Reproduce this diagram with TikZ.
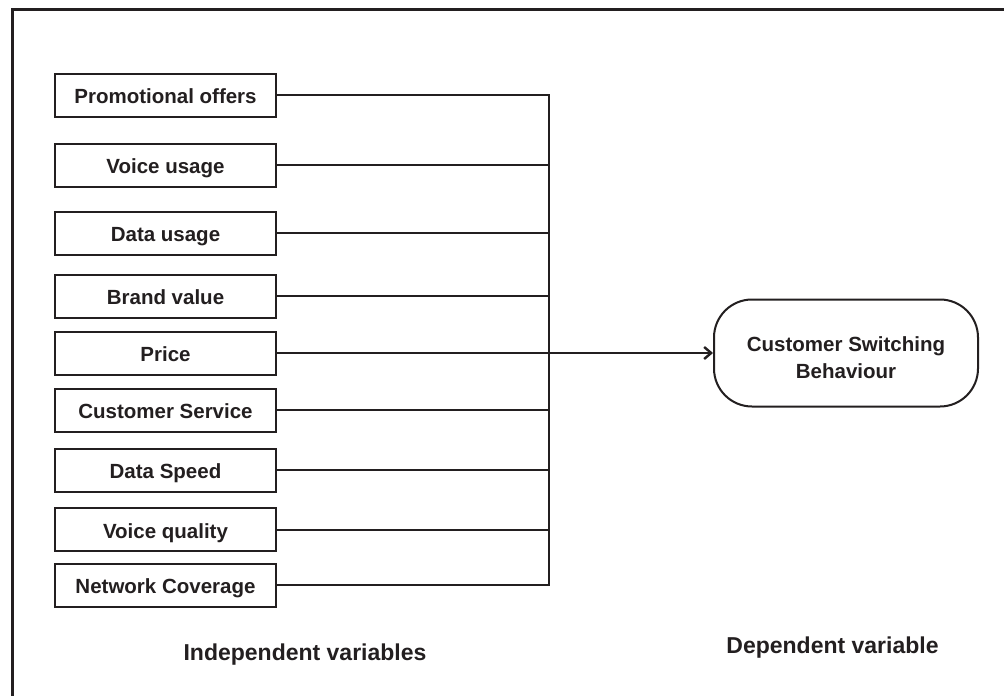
\documentclass[tikz,border=0pt]{standalone}
\usepackage{fontspec}
\setmainfont{Liberation Sans}
\usetikzlibrary{arrows.meta}
\definecolor{ink}{HTML}{231F20}
\begin{document}
\begin{tikzpicture}[x=1pt,y=-1pt,
  ivbox/.style={draw=ink, line width=2pt, minimum width=221pt, minimum height=43pt, inner sep=0pt,
    text height=17.7pt, text depth=0pt,
    font=\fontsize{20.5}{22}\selectfont\bfseries, text=ink},
  dvbox/.style={draw=ink, line width=2pt, rounded corners=38pt, minimum width=264pt, minimum height=107pt,
    inner sep=0pt, align=center, font=\fontsize{20.5}{27}\selectfont\bfseries, text=ink},
  lbl/.style={font=\fontsize{23}{26}\selectfont\bfseries, text=ink, inner sep=0pt},
  conn/.style={draw=ink, line width=2pt},
]
\useasboundingbox (0,0) rectangle (1004,696);
\fill[white] (0,0) rectangle (1004,696);
% outer frame
\draw[draw=ink, line width=3pt] (12,696) -- (12,9) -- (1004,9);

\node[ivbox] (b1) at (165.5,95)  {Promotional offers};
\node[ivbox] (b2) at (165.5,165) {Voice usage};
\node[ivbox] (b3) at (165.5,233) {Data usage};
\node[ivbox] (b4) at (165.5,296) {Brand value};
\node[ivbox] (b5) at (165.5,353) {Price};
\node[ivbox] (b6) at (165.5,410) {Customer Service};
\node[ivbox] (b7) at (165.5,470) {Data Speed};
\node[ivbox] (b8) at (165.5,529.5) {Voice quality};
\node[ivbox] (b9) at (165.5,585) {Network Coverage};

\node[dvbox] (dv) at (846,353) {\rule{0pt}{24pt}Customer Switching\\Behaviour};

\coordinate (bus) at (549,353);

\foreach \i in {1,...,9}{
  \draw[conn] (b\i.east) -- (b\i.east -| bus);
}
\draw[conn, line cap=rect] (b1.east -| bus) -- (b9.east -| bus);
\draw[conn, -{Straight Barb[length=7pt,width=12pt,line width=2.4pt]}] (b5.east -| bus) -- (dv.west);

\node[lbl] (ivl) at (305,654.5) {Independent variables};
\node[lbl] (dvl) at (832.5,647.5) {Dependent variable};
\end{tikzpicture}
\end{document}
